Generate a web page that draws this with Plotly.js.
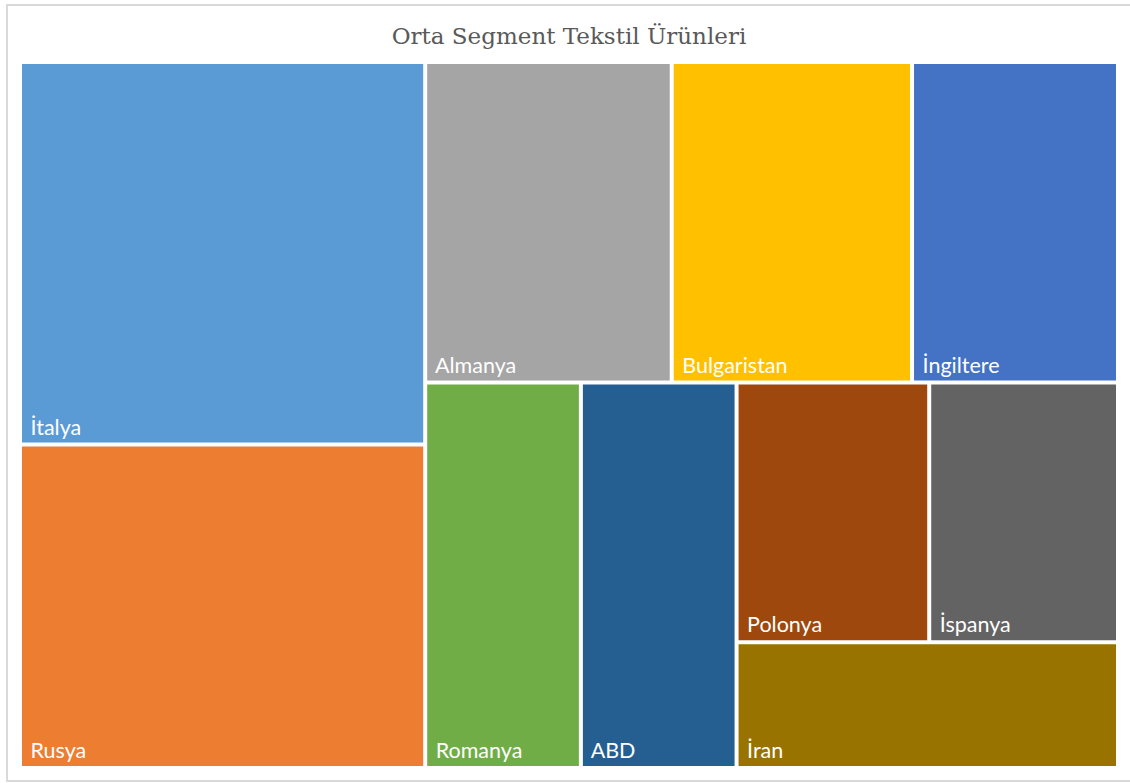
<!DOCTYPE html>
<html>
<head>
<meta charset="utf-8">
<script src="https://cdn.plot.ly/plotly-3.0.1.min.js"></script>
<style>
  html, body { margin: 0; padding: 0; background: #ffffff; }
  #wrap { position: relative; width: 1130px; height: 783px; overflow: hidden; }
  #chart { position: absolute; left: 0; top: 0; width: 1130px; height: 783px; }
  #frame { position: absolute; left: 6px; top: 4px; width: 1130px; height: 778px;
           border: 2px solid #d9d9d9; box-sizing: border-box; pointer-events: none; }
</style>
</head>
<body>
<div id="wrap">
  <div id="chart"></div>
  <div id="frame"></div>
</div>
<script>
// Data
var countries = ["İtalya", "Rusya", "Almanya", "Bulgaristan", "İngiltere", "Romanya", "ABD", "Polonya", "İspanya", "İran"];
var values    = [155, 131, 79, 77, 66, 60, 60, 50, 49, 48];
var colors    = ["#5B9BD5", "#ED7D31", "#A5A5A5", "#FFC000", "#4472C4", "#70AD47", "#255E91", "#9E480E", "#636363", "#997300"];
// Grouping that reproduces the reference's tiling (structure only)
var groupOf   = ["g1", "g1", "top", "top", "top", "bottom", "bottom", "g2d", "g2d", "g2c"];
var groupIds     = ["root", "g1", "g2", "top", "bottom", "g2c", "g2d"];
var groupParents = ["", "root", "root", "g2", "g2", "bottom", "g2c"];

// Build nodes in depth-first order so sibling order follows the list order
var ids = [], labels = [], parents = [], vals = [], cols = [];
function addChildren(pid) {
  for (var g = 0; g < groupIds.length; g++) {
    // groups and countries interleaved: emit countries of pid first unless a group
    // must come earlier (handled below)
  }
}
var order = [];
function walk(id) {
  // children of id: countries and groups, in a fixed order
  var kids = [];
  for (var i = 0; i < countries.length; i++) if (groupOf[i] === id) kids.push({t: "c", i: i});
  for (var g = 0; g < groupIds.length; g++) if (groupParents[g] === id) kids.push({t: "g", i: g});
  // group nodes g1/g2 order, and g2c after ABD, g2d before İran
  if (id === "g2c") kids.sort(function(a, b){ return (a.t === "g" ? 0 : 1) - (b.t === "g" ? 0 : 1); });
  kids.forEach(function(k) {
    if (k.t === "c") {
      ids.push("c" + k.i); labels.push(countries[k.i]); parents.push(id);
      vals.push(values[k.i]); cols.push(colors[k.i]);
    } else {
      ids.push(groupIds[k.i]); labels.push(""); parents.push(id);
      vals.push(0); cols.push("#ffffff");
      walk(groupIds[k.i]);
    }
  });
}
ids.push("root"); labels.push(""); parents.push(""); vals.push(0); cols.push("#ffffff");
walk("root");

var trace = {
  type: "treemap",
  ids: ids,
  labels: labels,
  parents: parents,
  values: vals,
  branchvalues: "remainder",
  sort: false,
  textinfo: "label",
  texttemplate: "\u00a0%{label}",
  textposition: "bottom left",
  textfont: { family: "Lato, 'Open Sans', sans-serif", size: 21.5, color: "#ffffff" },
  marker: { colors: cols, line: { width: 0 }, pad: { t: 0, l: 0, r: 0, b: 0 } },
  tiling: { packing: "slice-dice", pad: 4 },
  pathbar: { visible: false },
  hoverinfo: "none"
};

var layout = {
  width: 1130, height: 783,
  margin: { l: 22, r: 14, t: 64, b: 17 },
  paper_bgcolor: "#ffffff",
  title: {
    text: "Orta Segment Tekstil Ürünleri",
    font: { family: "'DejaVu Serif', 'Liberation Serif', serif", size: 23, color: "#595959" },
    x: 0.5, xref: "paper", xanchor: "center",
    y: 0.954, yref: "container", yanchor: "middle"
  }
};

Plotly.newPlot("chart", [trace], layout, { displayModeBar: false, staticPlot: true });
</script>
</body>
</html>
